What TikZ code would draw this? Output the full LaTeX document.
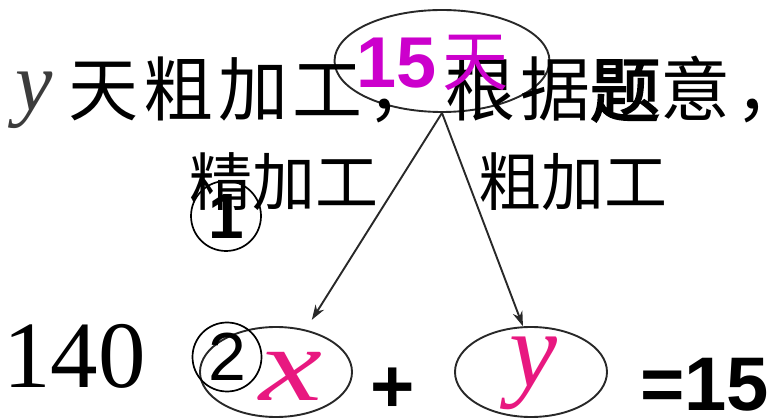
\documentclass[tikz,border=0pt]{standalone}
\usepackage{fontspec}
\setmainfont{Liberation Serif}
\setsansfont{Liberation Sans}
\newfontfamily\cjk[AutoFakeBold=3]{Noto Sans CJK SC}
\newfontfamily\cjkwide[AutoFakeBold=3,LetterSpace=7]{Noto Sans CJK SC}
\usetikzlibrary{shapes.geometric,arrows.meta,calc}
\definecolor{inkgrey}{RGB}{40,40,40}
\definecolor{textgrey}{RGB}{60,60,60}
\definecolor{magentafifteen}{RGB}{204,0,204}
\definecolor{pinkvar}{RGB}{232,24,128}
\begin{document}
\begin{tikzpicture}[x=1pt,y=-1pt,
  oval/.style={ellipse,draw=inkgrey,line width=1.9pt,inner sep=0pt},
  cnum/.style={circle,draw=black,line width=1.7pt,minimum size=#1,inner sep=0pt},
  lbl/.style={inner sep=0pt,anchor=base west},
  blbl/.style={inner sep=0pt,anchor=base},
  cjkfont/.style={font=\cjk\fontsize{#1}{#1}\selectfont},
  cjkwidefont/.style={font=\cjkwide\fontsize{#1}{#1}\selectfont},
  arr/.style={draw=inkgrey,line width=1.9pt,-{Stealth[length=15pt,width=10pt]}}]
\useasboundingbox (0,0) rectangle (779,419);
% ovals
\node[oval,minimum width=215pt,minimum height=102pt] (top) at (442,61) {};
\node[oval,minimum width=152pt,minimum height=90pt] (xe) at (276,372) {};
\node[oval,minimum width=152pt,minimum height=90pt] (ye) at (531,372) {};
% top line
\node[lbl,text=textgrey,font=\itshape\fontsize{84}{84}\selectfont] (ytop) at (15,111) {y};
\node[lbl,cjkwidefont=70] (lineA) at (68,116) {天粗加工，};
\node[lbl,cjkwidefont=70] (lineB) at (445,116) {根据{\bfseries 题}意，};
% 15天
\node[lbl,text=magentafifteen,font=\sffamily\bfseries\fontsize{72}{72}\selectfont] (fifteen) at (356,88) {15};
\node[lbl,text=magentafifteen,cjkfont=66] (tian) at (442,86) {天};
% branch labels
\node[lbl,cjkfont=63] (jing) at (189,206) {精加工};
\node[lbl,cjkfont=63] (cu) at (478,206) {粗加工};
% circled numbers
\node[cnum=70pt,font=\sffamily\bfseries\fontsize{64}{64}\selectfont] (c1) at (226,216) {1};
\node[cnum=69pt,font=\sffamily\fontsize{68}{68}\selectfont] (c2) at (227,357) {2};
% bottom line
\node[lbl,font=\fontsize{95}{95}\selectfont] (n140) at (3,388) {140};
\node[blbl,text=pinkvar,font=\itshape\fontsize{105}{105}\selectfont] (xv) at (291,400) {\scalebox{1.35}[1]{x}};
\node[blbl,text=pinkvar,font=\itshape\fontsize{108}{108}\selectfont] (yv) at (533,387) {y};
\node[blbl,font=\sffamily\bfseries\fontsize{76}{76}\selectfont] (plus) at (393,412) {+};
\node[lbl,font=\sffamily\bfseries\fontsize{76}{76}\selectfont] (eq) at (640,410) {=15};
% arrows
\coordinate (xtip) at ($(top.south)!0.955!(xe.55)$);
\draw[arr] (top.south) -- (xtip);
\draw[arr] (top.south) -- (ye.100);
\end{tikzpicture}
\end{document}
